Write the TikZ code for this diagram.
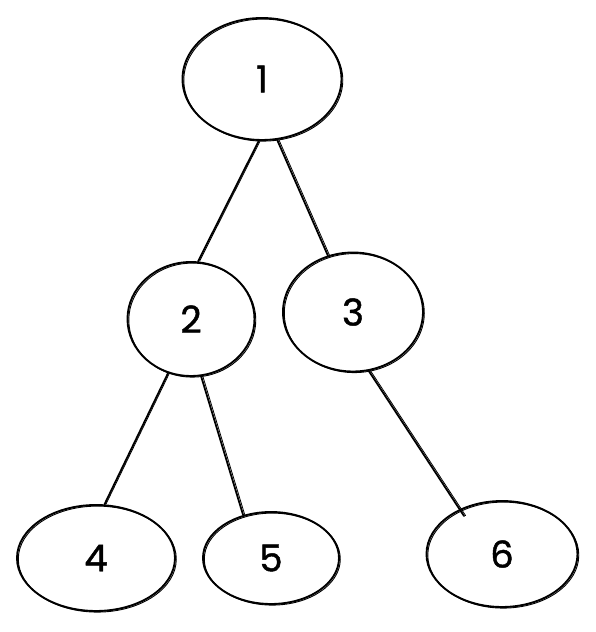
\documentclass[tikz,border=0pt]{standalone}
\usepackage{fontspec}
\newfontfamily\digitfont{Poppins}[FakeBold=1.2]
\usetikzlibrary{shapes.geometric,calc}

\begin{document}
\begin{tikzpicture}[x=1pt,y=-1pt,line join=round,line cap=round,
  vertex/.style={draw,ellipse,inner sep=0pt,line width=1.9pt,
    font=\digitfont\fontsize{37}{37}\selectfont,
    postaction={draw,line width=0.9pt,transform canvas={shift={(1.3pt,-1.1pt)}}}},
  link/.style={draw,line width=1.8pt,
    postaction={draw,line width=0.8pt,transform canvas={shift={(1.6pt,0.4pt)}}}}]
\useasboundingbox (0,0) rectangle (595,632);
\node[vertex,minimum width=159,minimum height=122] (n1) at (262,79) {1};
\node[vertex,minimum width=127,minimum height=114] (n2) at (191,319) {2};
\node[vertex,minimum width=140,minimum height=119] (n3) at (353,312) {3};
\node[vertex,minimum width=158,minimum height=106] (n4) at (96,558) {4};
\node[vertex,minimum width=136,minimum height=92] (n5) at (271,558) {5};
\node[vertex,minimum width=151,minimum height=106] (n6) at (502,554) {6};

\path (n1.267) edge[link] (n2.83);
\path (n1.284) edge[link] (n3.114);
\path (n2.247) edge[link] (n4.81);
\path (n2.280) edge[link] (n5.123);
\path (n3.285) edge[link] ($(n6.131)+(2,8)$);
\end{tikzpicture}
\end{document}
